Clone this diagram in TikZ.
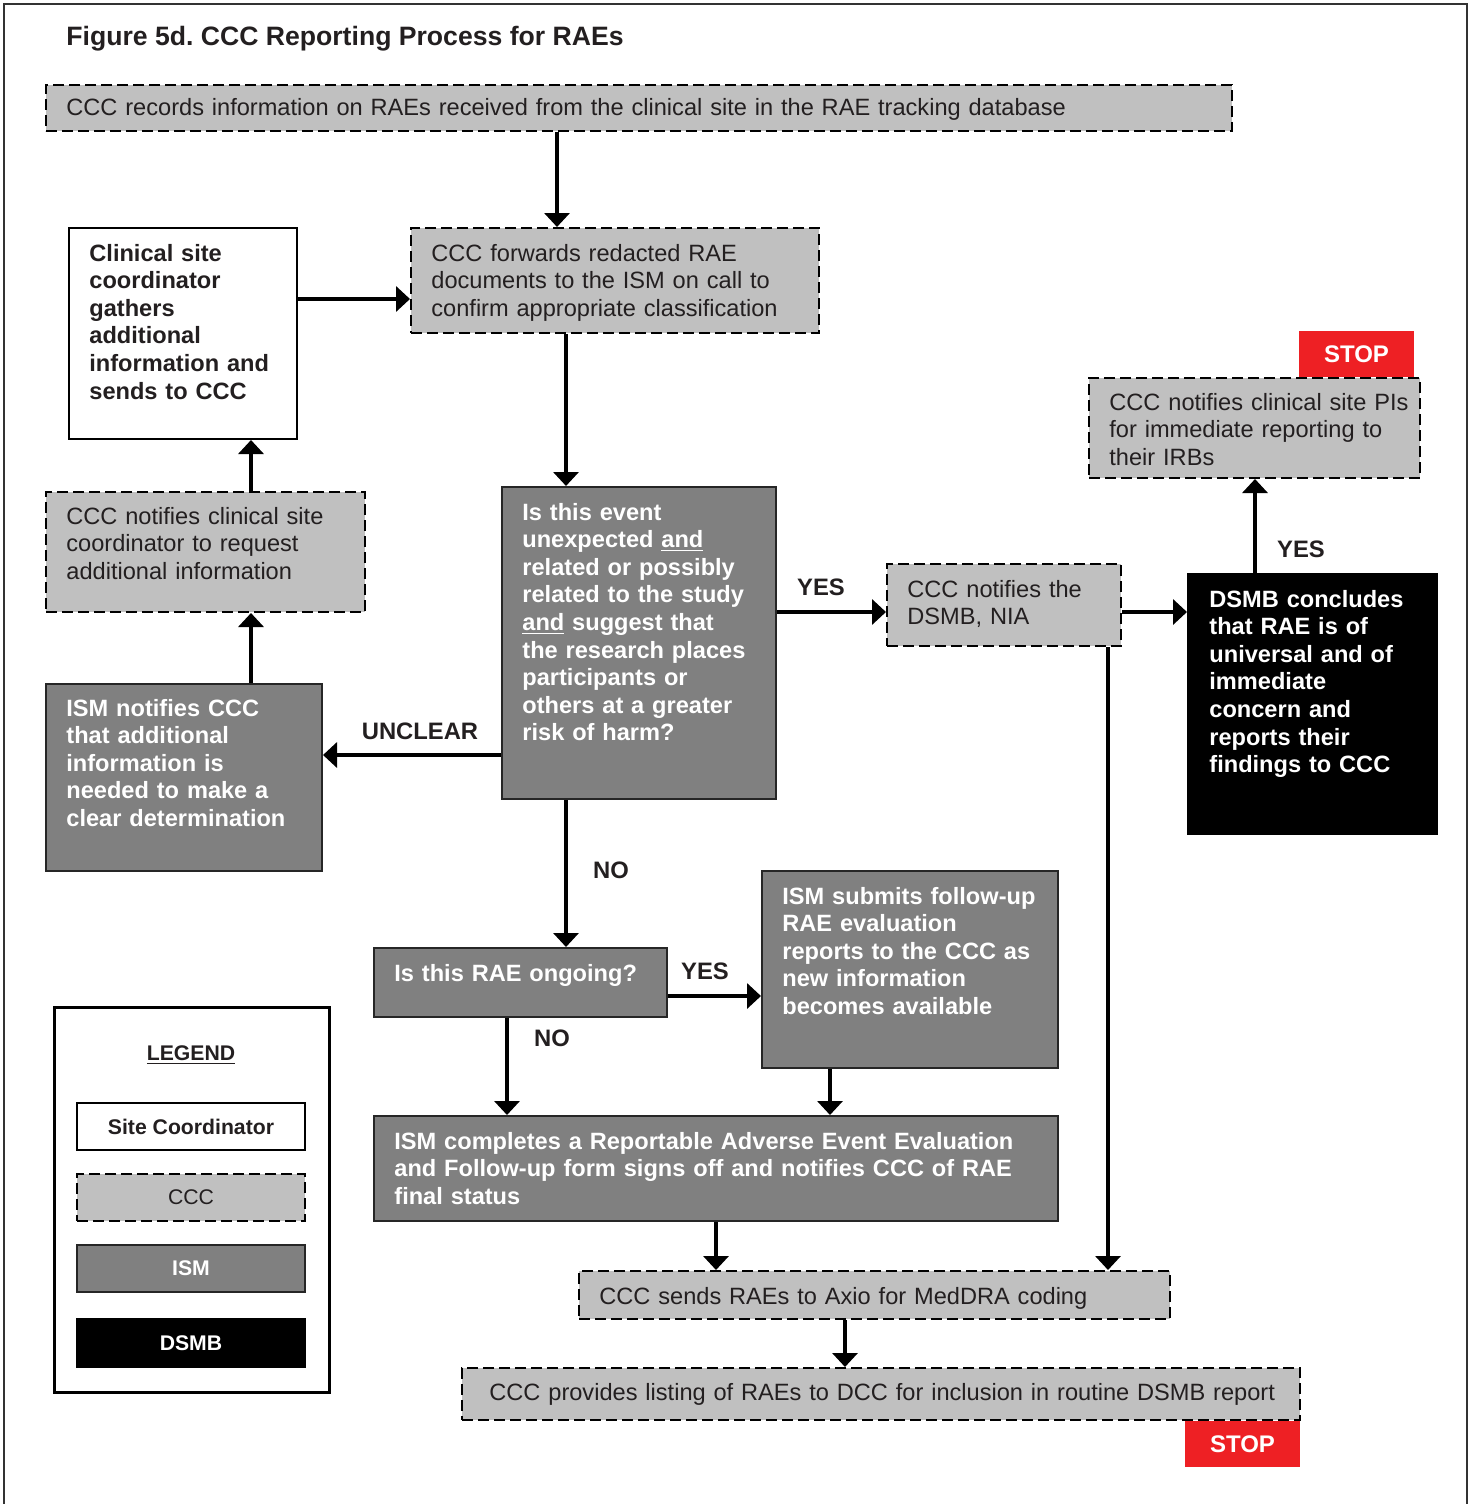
\documentclass[tikz,border=0pt]{standalone}
\usepackage{fontspec}
\setmainfont{Liberation Sans}
\usetikzlibrary{arrows.meta,fit}
\definecolor{cccgray}{HTML}{C0C0C0}
\definecolor{ismgray}{HTML}{808080}
\definecolor{stopred}{HTML}{EE2024}
\definecolor{ink}{HTML}{231F20}
\frenchspacing

\tikzset{
  box/.style={inner sep=0pt, line width=1pt},
  sitebox/.style={box, draw=black, fill=white},
  cccbox/.style={box, draw=black, fill=cccgray, dash pattern=on 5.5pt off 2.5pt},
  ismbox/.style={box, draw=black!85, fill=ismgray},
  dsmbbox/.style={box, draw=black, fill=black},
  stopbox/.style={inner sep=0pt, fill=stopred},
  stoptext/.style={inner sep=0pt, text=white, font=\bfseries\fontsize{12}{14}\selectfont},
  body/.style={anchor=base west, inner sep=0pt, align=left,
    font=\fontsize{11.8}{13.8}\selectfont},
  ccctext/.style={body, text=ink},
  sitetext/.style={body, text=ink, font=\bfseries\fontsize{11.8}{13.8}\selectfont},
  whitetext/.style={body, text=white, font=\bfseries\fontsize{11.8}{13.8}\selectfont},
  lbl/.style={inner sep=0pt, text=ink, font=\bfseries\fontsize{11.9}{14}\selectfont},
  legbold/.style={inner sep=0pt, font=\bfseries\fontsize{10.6}{12}\selectfont},
  legplain/.style={inner sep=0pt, font=\fontsize{10.6}{12}\selectfont},
  arr/.style={line width=2pt, draw=black, -{Triangle[length=7pt,width=12.5pt]}},
}

\begin{document}
\begin{tikzpicture}[x=0.5pt,y=-0.5pt]
\useasboundingbox (0,0) rectangle (1471,1504);

% outer frame (open at the bottom)
\draw[line width=1.2pt, black!80] (4,1504) -- (4,4) -- (1467,4) -- (1467,1504);

\node[anchor=base west, inner sep=0pt, text=ink,
  font=\bfseries\fontsize{13.3}{15}\selectfont] (title) at (66,46)
  {Figure 5d. CCC Reporting Process for RAEs};

% ---- boxes ----
\node[cccbox, fit={(46,85) (1232,131)}] (rec) {};
\node[ccctext, text width=600pt] (rect) at (66,116)
  {CCC records information on RAEs received from the clinical site in the RAE tracking database};

\node[sitebox, fit={(69,228) (297,439)}] (coord) {};
\node[sitetext, text width=105pt] (coordt) at (89,261)
  {Clinical site\\coordinator\\gathers\\additional\\information and\\sends to CCC};

\node[cccbox, fit={(411,228) (819,333)}] (fwd) {};
\node[ccctext, text width=195pt] (fwdt) at (431,261)
  {CCC forwards redacted RAE\\documents to the ISM on call to\\confirm appropriate classification};

\node[ismbox, fit={(502,487) (776,799)}] (quest) {};
\node[whitetext, text width=128pt] (questt) at (522,520)
  {Is this event\\unexpected \underline{and}\\related or possibly\\related to the study\\\underline{and} suggest that\\the research places\\participants or\\others at a greater\\risk of harm?};

\node[cccbox, fit={(46,492) (365,612)}] (req) {};
\node[ccctext, text width=150pt] (reqt) at (66,524)
  {CCC notifies clinical site\\coordinator to request\\additional information};

\node[ismbox, fit={(46,684) (322,871)}] (need) {};
\node[whitetext, text width=130pt] (needt) at (66,716)
  {ISM notifies CCC\\that additional\\information is\\needed to make a\\clear determination};

\node[cccbox, fit={(887,564) (1121,646)}] (notify) {};
\node[ccctext, text width=105pt] (notifyt) at (907,597)
  {CCC notifies the\\DSMB, NIA};

\node[dsmbbox, fit={(1188,574) (1437,834)}] (concl) {};
\node[whitetext, text width=118pt] (conclt) at (1209,607)
  {DSMB concludes\\that RAE is of\\universal and of\\immediate\\concern and\\reports their\\findings to CCC};

\node[cccbox, fit={(1089,378) (1420,478)}] (irb) {};
\node[ccctext, text width=160pt] (irbt) at (1109,410)
  {CCC notifies clinical site PIs\\for immediate reporting to\\their IRBs};
\node[stopbox, fit={(1299,331) (1414,377)}] (stopa) {};
\node[stoptext] (stopat) at (stopa.center) {STOP};

\node[ismbox, fit={(374,948) (667,1017)}] (ong) {};
\node[whitetext, text width=145pt] (ongt) at (394,981) {Is this RAE ongoing?};

\node[ismbox, fit={(762,871) (1058,1068)}] (fup) {};
\node[whitetext, text width=145pt] (fupt) at (782,904)
  {ISM submits follow-up\\RAE evaluation\\reports to the CCC as\\new information\\becomes available};

\node[ismbox, fit={(374,1116) (1058,1221)}] (comp) {};
\node[whitetext, text width=330pt] (compt) at (394,1149)
  {ISM completes a Reportable Adverse Event Evaluation\\and Follow-up form signs off and notifies CCC of RAE\\final status};

\node[cccbox, fit={(579,1271) (1170,1319)}] (axio) {};
\node[ccctext, text width=285pt] (axiot) at (599,1304)
  {CCC sends RAEs to Axio for MedDRA coding};

\node[cccbox, fit={(462,1368) (1300,1420)}] (list) {};
\node[ccctext, text width=410pt] (listt) at (489,1400)
  {CCC provides listing of RAEs to DCC for inclusion in routine DSMB report};
\node[stopbox, fit={(1185,1421) (1300,1467)}] (stopb) {};
\node[stoptext] (stopbt) at (stopb.center) {STOP};

% ---- connectors ----
\coordinate (xa) at (557,0);
\coordinate (xb) at (566,0);
\coordinate (xc) at (251,0);
\coordinate (xd) at (1255,0);
\coordinate (xe) at (507,0);
\coordinate (xf) at (830,0);
\coordinate (xg) at (716,0);
\coordinate (xh) at (1108,0);
\coordinate (xi) at (845,0);
\coordinate (ya) at (0,299);
\coordinate (yb) at (0,755);
\coordinate (yc) at (0,612);
\coordinate (yd) at (0,996);

\draw[arr] (rec.south -| xa) -- (fwd.north -| xa);
\draw[arr] (coord.east |- ya) -- (fwd.west |- ya);
\draw[arr] (fwd.south -| xb) -- (quest.north -| xb);
\draw[arr] (quest.west |- yb) -- (need.east |- yb);
\draw[arr] (need.north -| xc) -- (req.south -| xc);
\draw[arr] (req.north -| xc) -- (coord.south -| xc);
\draw[arr] (quest.east |- yc) -- (notify.west |- yc);
\draw[arr] (notify.east |- yc) -- (concl.west |- yc);
\draw[arr] (concl.north -| xd) -- (irb.south -| xd);
\draw[arr] (quest.south -| xb) -- (ong.north -| xb);
\draw[arr] (ong.east |- yd) -- (fup.west |- yd);
\draw[arr] (ong.south -| xe) -- (comp.north -| xe);
\draw[arr] (fup.south -| xf) -- (comp.north -| xf);
\draw[arr] (comp.south -| xg) -- (axio.north -| xg);
\draw[arr] (notify.south -| xh) -- (axio.north -| xh);
\draw[arr] (axio.south -| xi) -- (list.north -| xi);

% ---- connector labels ----
\node[lbl] (lunclear) at (420,731) {UNCLEAR};
\node[lbl] (lyesa) at (821,587) {YES};
\node[lbl] (lyesb) at (1301,549) {YES};
\node[lbl] (lnoa) at (611,870) {NO};
\node[lbl] (lyesc) at (705,971) {YES};
\node[lbl] (lnob) at (552,1038) {NO};

% ---- legend ----
\node[box, draw=black, line width=1.5pt, fit={(54,1007) (329,1392)}] (legend) {};
\node[legbold, text=ink] (legt) at (191,1055) {\underline{LEGEND}};
\node[sitebox, fit={(77,1103) (305,1150)}] (legsite) {};
\node[legbold, text=ink] (legsitet) at (legsite.center) {Site Coordinator};
\node[cccbox, fit={(77,1174) (305,1221)}] (legccc) {};
\node[legplain, text=ink] (legccct) at (legccc.center) {CCC};
\node[ismbox, fit={(77,1245) (305,1292)}] (legism) {};
\node[legbold, text=white] (legismt) at (legism.center) {ISM};
\node[dsmbbox, fit={(77,1319) (305,1367)}] (legdsmb) {};
\node[legbold, text=white] (legdsmbt) at (legdsmb.center) {DSMB};
\end{tikzpicture}
\end{document}
